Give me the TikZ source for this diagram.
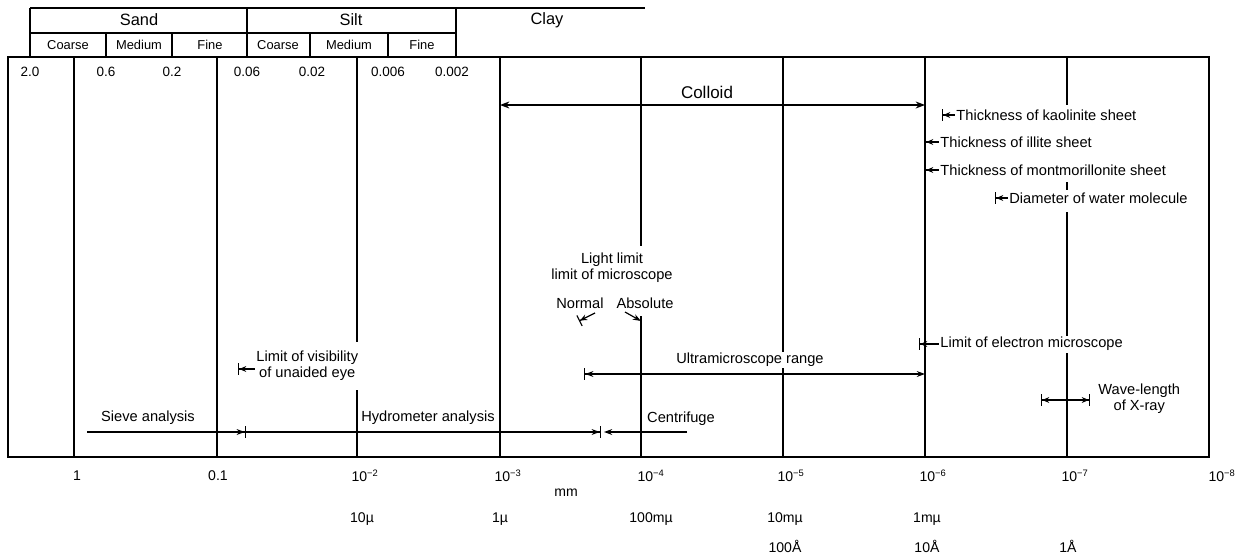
\documentclass[tikz,border=0pt]{standalone}
\usepackage{fontspec}
\setmainfont{Liberation Sans}
\usetikzlibrary{positioning, arrows.meta}

\begin{document}
\begin{tikzpicture}[
      x=0.03cm, y=-0.03cm,
      every node/.style={font=\fontsize{12.5}{14}\selectfont, inner sep=1pt},
      lbl/.style={fill=white, align=center},
      head/.style={font=\fontsize{14}{15}\selectfont},
      sub/.style={font=\fontsize{11}{12}\selectfont},
      num/.style={font=\fontsize{11.5}{12}\selectfont},
      axis/.style={font=\fontsize{12}{13}\selectfont},
      rule/.style={line width=1pt},
      grid/.style={line width=1.3pt},
      frame/.style={line width=1.6pt},
      arr/.style={line width=1pt, -{Stealth[length=7pt,width=5pt]}},
      arrbar/.style={line width=1pt, -{Stealth[length=7pt,width=5pt]Bar[width=10pt]}},
      barl/.style={line width=1pt, {Bar[width=10pt]Stealth[length=6pt,width=5pt]}-},
      barlr/.style={line width=1pt, {Bar[width=10pt]Stealth[length=7pt,width=5pt]}-{Stealth[length=7pt,width=5pt]}},
      span/.style={line width=1pt, {Bar[width=10pt]Stealth[length=6pt,width=5pt]}-{Stealth[length=6pt,width=5pt]Bar[width=10pt]}},
      dbl/.style={line width=1.1pt, {Stealth[length=8pt,width=6pt]}-{Stealth[length=8pt,width=6pt]}}
    ]
    \useasboundingbox (0,0) rectangle (1246,558);

    % Header table
    \draw[rule] (30,8) -- (645,8);
    \draw[rule] (30,33) -- (456,33);
    \foreach \x in {30,247,456} \draw[rule] (\x,8) -- (\x,57);
    \foreach \x in {106,172,310,388} \draw[rule] (\x,33) -- (\x,57);

    \node[head] (sand) at (139,20) {Sand};
    \node[head] (silt) at (351,20) {Silt};
    \node[head] (clay) at (547,20) {Clay};
    \node[sub] (sandc) at (68,45) {Coarse};
    \node[sub] (sandm) at (139,45) {Medium};
    \node[sub] (sandf) at (210,45) {Fine};
    \node[sub] (siltc) at (278,45) {Coarse};
    \node[sub] (siltm) at (349,45) {Medium};
    \node[sub] (siltf) at (422,45) {Fine};

    % Frame and decade lines
    \draw[frame] (8,57) rectangle (1209,457);
    \foreach \x in {74,217,500,783,925} \draw[grid] (\x,57) -- (\x,457);
    \draw[grid] (357,57) -- (357,342) (357,390) -- (357,457);
    \draw[grid] (641,57) -- (641,246) (641,316) -- (641,457);
    \draw[grid] (1067,57) -- (1067,105) (1067,182) -- (1067,190)
                (1067,212) -- (1067,337) (1067,353) -- (1067,457);

    % Grain size limits
    \node[num] (d1) at (30,72) {2.0};
    \node[num] (d2) at (106,72) {0.6};
    \node[num] (d3) at (172,72) {0.2};
    \node[num] (d4) at (247,72) {0.06};
    \node[num] (d5) at (312,72) {0.02};
    \node[num] (d6) at (388,72) {0.006};
    \node[num] (d7) at (452,72) {0.002};

    % Nodes
    \node[font=\fontsize{14.5}{15}\selectfont] (colloid) at (707,92) {Colloid};
    \node[lbl, anchor=west] (kaol) at (955,115) {Thickness of kaolinite sheet};
    \node[lbl, anchor=west] (illite) at (939,142) {Thickness of illite sheet};
    \node[lbl, anchor=west] (mont) at (939,170) {Thickness of montmorillonite sheet};
    \node[lbl, anchor=west] (water) at (1008,198) {Diameter of water molecule};
    \node[lbl] (light) at (612,268) {Light limit\\limit of microscope};
    \node[lbl] (normal) at (580,303) {Normal};
    \node[lbl] (absolute) at (645,303) {Absolute};
    \node[lbl, anchor=west] (electron) at (939,344) {Limit of electron microscope};
    \node[lbl] (ultra) at (750,360) {Ultramicroscope range};
    \node[lbl, anchor=west] (visib) at (255,366) {Limit of visibility\\of unaided eye};
    \node[lbl, anchor=west] (xray) at (1097,399) {Wave-length\\of X-ray};
    \node (sieve) at (148,418) {Sieve analysis};
    \node (hydro) at (428,418) {Hydrometer analysis};
    \node (centri) at (681,419) {Centrifuge};

    \coordinate (collL) at (500,105);
    \coordinate (collR) at (925,105);
    \coordinate (kaolbar) at (942,115);
    \coordinate (illbar) at (925,142);
    \coordinate (montbar) at (925,170);
    \coordinate (waterbar) at (995,198);
    \coordinate (normbar) at (579,321);
    \coordinate (normend) at (595,313);
    \coordinate (absstart) at (625,312);
    \coordinate (absend) at (641,321);
    \coordinate (elecbar) at (919,344);
    \coordinate (ultraL) at (584,374);
    \coordinate (ultraR) at (925,374);
    \coordinate (visbar) at (238,369);
    \coordinate (xrayL) at (1041,400);
    \coordinate (xrayR) at (1090,400);
    \coordinate (sieveL) at (87,432);
    \coordinate (sieveR) at (246,432);
    \coordinate (hydroR) at (601,432);
    \coordinate (centL) at (604,432);
    \coordinate (centR) at (687,432);

    % Edges
    \draw[dbl] (collL) -- (collR);
    \draw[barl] (kaolbar) -- (kaol.west);
    \draw[barl] (illbar) -- (illite.west);
    \draw[barl] (montbar) -- (mont.west);
    \draw[barl] (waterbar) -- (water.west);
    \draw[barl] (normbar) -- (normend);
    \draw[arr] (absstart) -- (absend);
    \draw[barl] (elecbar) -- (electron.west);
    \draw[barlr] (ultraL) -- (ultraR);
    \draw[barl] (visbar) -- (visib.west |- visbar);
    \draw[span] (xrayL) -- (xrayR);
    \draw[arrbar] (sieveL) -- (sieveR);
    \draw[arrbar] (sieveR) -- (hydroR);
    \draw[arr] (centR) -- (centL);

    % Scale
    \node[axis] (s0) at (77,476) {1};
    \node[axis] (s1) at (218,476) {0.1};
    \foreach \x/\e in {365/2,508/3,651/4,791/5,933/6,1075/7,1222/8}
      \node[axis] (s\e) at (\x,476) {10\textsuperscript{\textminus\e}};
    \node[axis] (mm) at (566,493) {mm};
    \node[axis] (mu10) at (362,519) {10µ};
    \node[axis] (mu1) at (500,519) {1µ};
    \node[axis] (mmu100) at (651,519) {100mµ};
    \node[axis] (mmu10) at (785,519) {10mµ};
    \node[axis] (mmu1) at (927,519) {1mµ};
    \node[axis] (ang100) at (785,546) {100Å};
    \node[axis] (ang10) at (927,546) {10Å};
    \node[axis] (ang1) at (1068,546) {1Å};
  \end{tikzpicture}
\end{document}
